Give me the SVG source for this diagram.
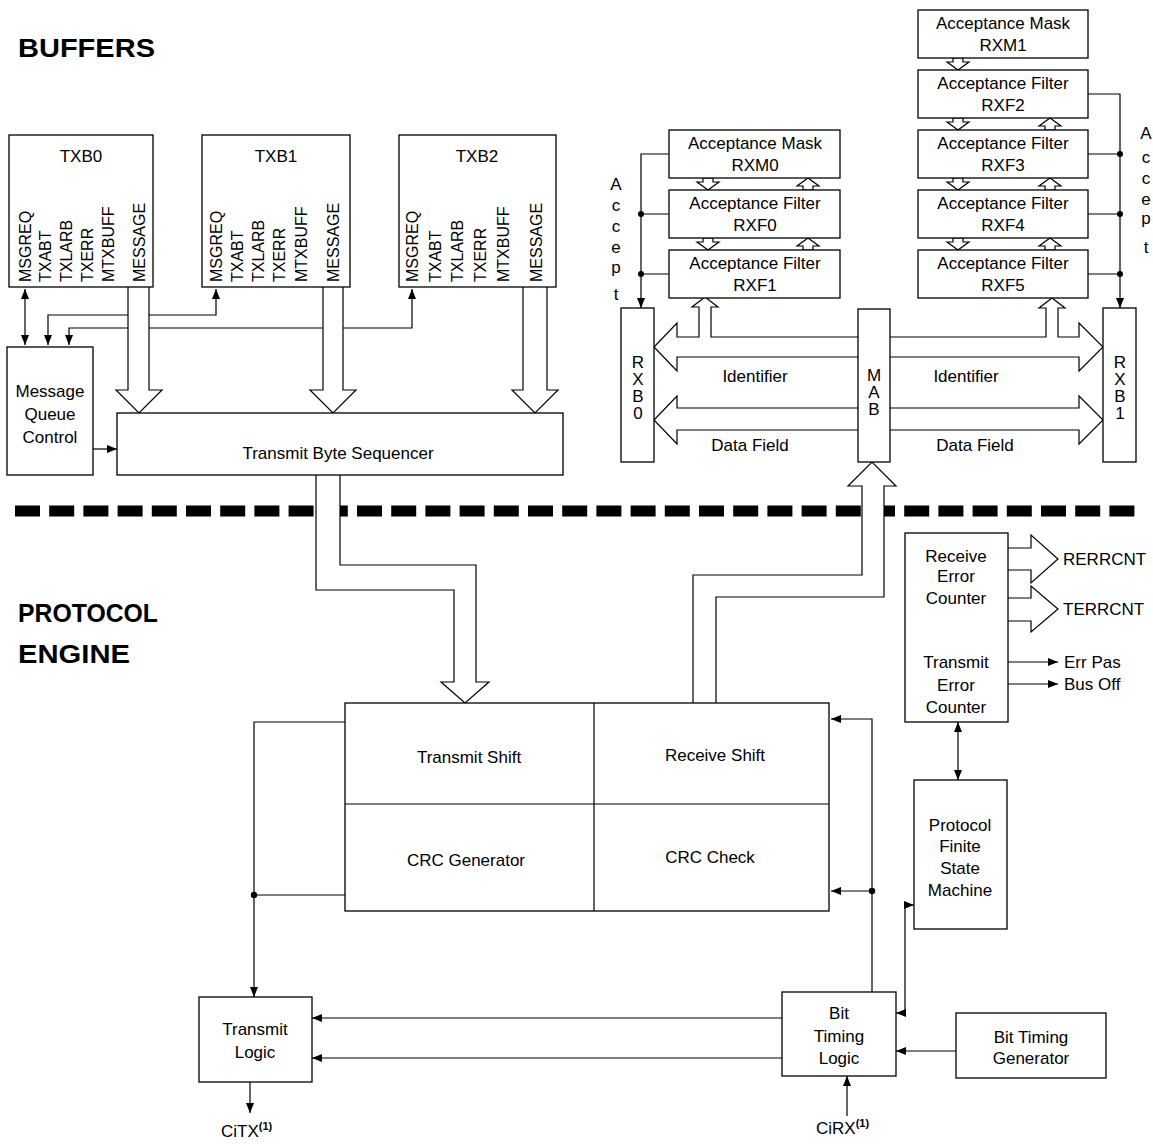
<svg xmlns="http://www.w3.org/2000/svg" width="1153" height="1145" viewBox="0 0 1153 1145">
  <style>
    text { font-family: "Liberation Sans", Arial, sans-serif; font-size: 17px; fill: #000; }
    .title { font-size: 25px; font-weight: bold; }
    .vt { font-size: 16px; }
    .mid { text-anchor: middle; }
    .box { fill: #fff; stroke: #000; stroke-width: 1.3; }
    .ln { fill: none; stroke: #000; stroke-width: 1.2; }
    .hollow { fill: #fff; stroke: #000; stroke-width: 1.2; stroke-linejoin: miter; }
    .sup { font-size: 11px; font-weight: bold; }
  </style>
  <defs>
    <marker id="ah" viewBox="0 0 10 8" refX="10" refY="4" markerWidth="10" markerHeight="8" markerUnits="userSpaceOnUse" orient="auto-start-reverse">
      <path d="M0,0 L10,4 L0,8 z" fill="#000"/>
    </marker>
    <!-- small hollow arrows between stacked filter registers (origin at top centre) -->
    <path id="sdown" d="M-5,0 H5 V4 H11 L0,12 L-11,4 H-5 Z"/>
    <path id="sup" d="M-5,12 H5 V8 H11 L0,0 L-11,8 H-5 Z"/>
  </defs>
  <rect width="1153" height="1145" fill="#fff"/>

  <!-- section titles -->
  <text class="title" x="18" y="57" textLength="137" lengthAdjust="spacingAndGlyphs">BUFFERS</text>
  <text class="title" x="18" y="622" textLength="140" lengthAdjust="spacingAndGlyphs">PROTOCOL</text>
  <text class="title" x="18" y="663" textLength="112" lengthAdjust="spacingAndGlyphs">ENGINE</text>

  <!-- dashed boundary between buffers and protocol engine -->
  <line x1="15" y1="511" x2="1136" y2="511" stroke="#000" stroke-width="11" stroke-dasharray="25 9.2"/>

  <!-- connectors -->
  <g id="connectors">
    <!-- MSGREQ handshakes -->
    <path class="ln" d="M25,289 V345" marker-start="url(#ah)" marker-end="url(#ah)"/>
    <path class="ln" d="M48,345 V315 H216 V289" marker-start="url(#ah)" marker-end="url(#ah)"/>
    <path class="ln" d="M69,345 V328 H412 V289" marker-start="url(#ah)" marker-end="url(#ah)"/>
    <path class="ln" d="M93,449 H117" marker-end="url(#ah)"/>

    <!-- MESSAGE buses into the byte sequencer -->
    <path class="hollow" d="M128,287 V390 H116 L139,413 L162,390 H149 V287"/>
    <path class="hollow" d="M323,287 V390 H310 L333,413 L356,390 H343 V287"/>
    <path class="hollow" d="M523,287 V390 H512 L535,413 L558,390 H547 V287"/>

    <!-- transmit path to shift register -->
    <path class="hollow" d="M316,475 V590 H454 V682 H441 L465,703 L489,682 H476 V565 H340 V475"/>
    <!-- receive path up to MAB -->
    <path class="hollow" d="M693,703 V575 H862 V486 H848 L872,462 L896,486 H884 V597 H716 V703"/>

    <!-- MAB to RXB0 buses (with tap to RXF1) -->
    <path class="hollow" d="M858,337 H711 V307 H718 L705,297 L692,307 H699 V337 H677 V323 L654,347 L677,371 V357 H858"/>
    <path class="hollow" d="M858,408 H677 V396 L654,420 L677,444 V430 H858"/>
    <!-- MAB to RXB1 buses (with tap to RXF5) -->
    <path class="hollow" d="M890,337 H1046 V308 H1039 L1052,298 L1065,308 H1058 V337 H1079 V323 L1103,347 L1079,371 V357 H890"/>
    <path class="hollow" d="M890,408 H1079 V396 L1103,420 L1079,444 V430 H890"/>

    <!-- accept lines -->
    <path class="ln" d="M669,154 H641 V308" marker-end="url(#ah)"/>
    <path class="ln" d="M669,214 H641 M669,274 H641"/>
    <circle cx="641" cy="214" r="3"/>
    <circle cx="641" cy="274" r="3"/>
    <path class="ln" d="M1088,94 H1120 V308" marker-end="url(#ah)"/>
    <path class="ln" d="M1088,154 H1120 M1088,214 H1120 M1088,274 H1120"/>
    <circle cx="1120" cy="154" r="3"/>
    <circle cx="1120" cy="214" r="3"/>
    <circle cx="1120" cy="274" r="3"/>

    <!-- mask/filter chaining arrows -->
    <g class="hollow">
      <use href="#sdown" x="708" y="178"/>
      <use href="#sdown" x="708" y="238"/>
      <use href="#sup" x="808" y="178"/>
      <use href="#sup" x="808" y="238"/>
      <use href="#sdown" x="958" y="58"/>
      <use href="#sdown" x="958" y="118"/>
      <use href="#sdown" x="958" y="178"/>
      <use href="#sdown" x="958" y="238"/>
      <use href="#sup" x="1050" y="118"/>
      <use href="#sup" x="1050" y="178"/>
      <use href="#sup" x="1050" y="238"/>
    </g>

    <!-- error counter outputs -->
    <path class="hollow" d="M1008,548 H1031 V535 L1058,559 L1031,583 V570 H1008"/>
    <path class="hollow" d="M1008,598 H1031 V586 L1058,609 L1031,632 V621 H1008"/>
    <path class="ln" d="M1008,662 H1058" marker-end="url(#ah)"/>
    <path class="ln" d="M1008,684 H1058" marker-end="url(#ah)"/>
    <path class="ln" d="M958,722 V780" marker-start="url(#ah)" marker-end="url(#ah)"/>

    <!-- transmit side feedback -->
    <path class="ln" d="M345,722 H254 V997" marker-end="url(#ah)"/>
    <path class="ln" d="M345,895 H254"/>
    <circle cx="254" cy="895" r="3.2"/>

    <!-- receive side from bit timing logic -->
    <path class="ln" d="M872,992 V719 H831" marker-end="url(#ah)"/>
    <path class="ln" d="M872,891 H831" marker-end="url(#ah)"/>
    <circle cx="872" cy="891" r="3.2"/>
    <path class="ln" d="M896,1013 H905 V905 H914" marker-start="url(#ah)" marker-end="url(#ah)"/>

    <!-- bit timing to transmit logic -->
    <path class="ln" d="M782,1018 H312" marker-end="url(#ah)"/>
    <path class="ln" d="M782,1058 H312" marker-end="url(#ah)"/>
    <path class="ln" d="M956,1051 H896" marker-end="url(#ah)"/>
    <path class="ln" d="M847,1116 V1076" marker-end="url(#ah)"/>
    <path class="ln" d="M250,1082 V1113" marker-end="url(#ah)"/>
  </g>

  <!-- transmit buffers -->
  <g id="txb0">
    <rect class="box" x="9" y="135" width="144" height="152"/>
    <text class="mid" x="81" y="162">TXB0</text>
    <text class="vt" transform="translate(31,282) rotate(-90)">MSGREQ</text>
    <text class="vt" transform="translate(51,282) rotate(-90)">TXABT</text>
    <text class="vt" transform="translate(72,282) rotate(-90)">TXLARB</text>
    <text class="vt" transform="translate(93,282) rotate(-90)">TXERR</text>
    <text class="vt" transform="translate(114,282) rotate(-90)">MTXBUFF</text>
    <text class="vt" transform="translate(145,282) rotate(-90)">MESSAGE</text>
  </g>
  <g id="txb1">
    <rect class="box" x="202" y="135" width="148" height="152"/>
    <text class="mid" x="276" y="162">TXB1</text>
    <text class="vt" transform="translate(222,282) rotate(-90)">MSGREQ</text>
    <text class="vt" transform="translate(243,282) rotate(-90)">TXABT</text>
    <text class="vt" transform="translate(264,282) rotate(-90)">TXLARB</text>
    <text class="vt" transform="translate(285,282) rotate(-90)">TXERR</text>
    <text class="vt" transform="translate(307,282) rotate(-90)">MTXBUFF</text>
    <text class="vt" transform="translate(339,282) rotate(-90)">MESSAGE</text>
  </g>
  <g id="txb2">
    <rect class="box" x="399" y="135" width="157" height="152"/>
    <text class="mid" x="477" y="162">TXB2</text>
    <text class="vt" transform="translate(418,282) rotate(-90)">MSGREQ</text>
    <text class="vt" transform="translate(441,282) rotate(-90)">TXABT</text>
    <text class="vt" transform="translate(463,282) rotate(-90)">TXLARB</text>
    <text class="vt" transform="translate(486,282) rotate(-90)">TXERR</text>
    <text class="vt" transform="translate(509,282) rotate(-90)">MTXBUFF</text>
    <text class="vt" transform="translate(542,282) rotate(-90)">MESSAGE</text>
  </g>

  <g id="msg-queue-control">
    <rect class="box" x="7" y="347" width="86" height="128"/>
    <text class="mid" x="50" y="397">Message</text>
    <text class="mid" x="50" y="420">Queue</text>
    <text class="mid" x="50" y="443">Control</text>
  </g>

  <g id="tx-byte-sequencer">
    <rect class="box" x="117" y="413" width="446" height="62"/>
    <text class="mid" x="338" y="459">Transmit Byte Sequencer</text>
  </g>

  <!-- receive side: masks and filters -->
  <g id="rxm0">
    <rect class="box" x="669" y="130" width="171" height="48"/>
    <text class="mid" x="755" y="149">Acceptance Mask</text>
    <text class="mid" x="755" y="171">RXM0</text>
  </g>
  <g id="rxf0">
    <rect class="box" x="669" y="190" width="171" height="48"/>
    <text class="mid" x="755" y="209">Acceptance Filter</text>
    <text class="mid" x="755" y="231">RXF0</text>
  </g>
  <g id="rxf1">
    <rect class="box" x="669" y="250" width="171" height="48"/>
    <text class="mid" x="755" y="269">Acceptance Filter</text>
    <text class="mid" x="755" y="291">RXF1</text>
  </g>
  <g id="rxm1">
    <rect class="box" x="918" y="10" width="170" height="48"/>
    <text class="mid" x="1003" y="29">Acceptance Mask</text>
    <text class="mid" x="1003" y="51">RXM1</text>
  </g>
  <g id="rxf2">
    <rect class="box" x="918" y="70" width="170" height="48"/>
    <text class="mid" x="1003" y="89">Acceptance Filter</text>
    <text class="mid" x="1003" y="111">RXF2</text>
  </g>
  <g id="rxf3">
    <rect class="box" x="918" y="130" width="170" height="48"/>
    <text class="mid" x="1003" y="149">Acceptance Filter</text>
    <text class="mid" x="1003" y="171">RXF3</text>
  </g>
  <g id="rxf4">
    <rect class="box" x="918" y="190" width="170" height="48"/>
    <text class="mid" x="1003" y="209">Acceptance Filter</text>
    <text class="mid" x="1003" y="231">RXF4</text>
  </g>
  <g id="rxf5">
    <rect class="box" x="918" y="250" width="170" height="48"/>
    <text class="mid" x="1003" y="269">Acceptance Filter</text>
    <text class="mid" x="1003" y="291">RXF5</text>
  </g>

  <g id="accept-labels">
    <text class="mid" x="616" y="190">A</text>
    <text class="mid" x="616" y="211">c</text>
    <text class="mid" x="616" y="232">c</text>
    <text class="mid" x="616" y="253">e</text>
    <text class="mid" x="616" y="273">p</text>
    <text class="mid" x="616" y="300">t</text>
    <text class="mid" x="1146" y="139">A</text>
    <text class="mid" x="1146" y="163">c</text>
    <text class="mid" x="1146" y="184">c</text>
    <text class="mid" x="1146" y="205">e</text>
    <text class="mid" x="1146" y="224">p</text>
    <text class="mid" x="1146" y="253">t</text>
  </g>

  <g id="rxb0">
    <rect class="box" x="621" y="308" width="33" height="154"/>
    <text class="mid" x="638" y="368">R</text>
    <text class="mid" x="638" y="385">X</text>
    <text class="mid" x="638" y="402">B</text>
    <text class="mid" x="638" y="419">0</text>
  </g>
  <g id="mab">
    <rect class="box" x="858" y="309" width="32" height="153"/>
    <text class="mid" x="874" y="381">M</text>
    <text class="mid" x="874" y="398">A</text>
    <text class="mid" x="874" y="415">B</text>
  </g>
  <g id="rxb1">
    <rect class="box" x="1103" y="308" width="33" height="154"/>
    <text class="mid" x="1120" y="368">R</text>
    <text class="mid" x="1120" y="385">X</text>
    <text class="mid" x="1120" y="402">B</text>
    <text class="mid" x="1120" y="419">1</text>
  </g>
  <g id="bus-labels">
    <text class="mid" x="755" y="382">Identifier</text>
    <text class="mid" x="750" y="451">Data Field</text>
    <text class="mid" x="966" y="382">Identifier</text>
    <text class="mid" x="975" y="451">Data Field</text>
  </g>

  <!-- protocol engine -->
  <g id="error-counters">
    <rect class="box" x="905" y="533" width="103" height="189"/>
    <text class="mid" x="956" y="562">Receive</text>
    <text class="mid" x="956" y="582">Error</text>
    <text class="mid" x="956" y="604">Counter</text>
    <text class="mid" x="956" y="668">Transmit</text>
    <text class="mid" x="956" y="691">Error</text>
    <text class="mid" x="956" y="713">Counter</text>
    <text x="1063" y="565">RERRCNT</text>
    <text x="1063" y="615">TERRCNT</text>
    <text x="1064" y="668">Err Pas</text>
    <text x="1064" y="690">Bus Off</text>
  </g>

  <g id="shift-crc">
    <rect class="box" x="345" y="703" width="484" height="208"/>
    <path class="ln" d="M594,703 V911 M345,804 H829"/>
    <text class="mid" x="469" y="763">Transmit Shift</text>
    <text class="mid" x="715" y="761">Receive Shift</text>
    <text class="mid" x="466" y="866">CRC Generator</text>
    <text class="mid" x="710" y="863">CRC Check</text>
  </g>

  <g id="protocol-fsm">
    <rect class="box" x="914" y="780" width="93" height="149"/>
    <text class="mid" x="960" y="831">Protocol</text>
    <text class="mid" x="960" y="852">Finite</text>
    <text class="mid" x="960" y="874">State</text>
    <text class="mid" x="960" y="896">Machine</text>
  </g>

  <g id="transmit-logic">
    <rect class="box" x="199" y="997" width="113" height="85"/>
    <text class="mid" x="255" y="1035">Transmit</text>
    <text class="mid" x="255" y="1058">Logic</text>
  </g>

  <g id="bit-timing-logic">
    <rect class="box" x="782" y="992" width="114" height="84"/>
    <text class="mid" x="839" y="1019">Bit</text>
    <text class="mid" x="839" y="1042">Timing</text>
    <text class="mid" x="839" y="1064">Logic</text>
  </g>

  <g id="bit-timing-generator">
    <rect class="box" x="956" y="1013" width="150" height="65"/>
    <text class="mid" x="1031" y="1043">Bit Timing</text>
    <text class="mid" x="1031" y="1064">Generator</text>
  </g>

  <g id="pins">
    <text x="221" y="1137">CiTX<tspan class="sup" dy="-7">(1)</tspan></text>
    <text x="816" y="1134">CiRX<tspan class="sup" dy="-7">(1)</tspan></text>
  </g>
</svg>
